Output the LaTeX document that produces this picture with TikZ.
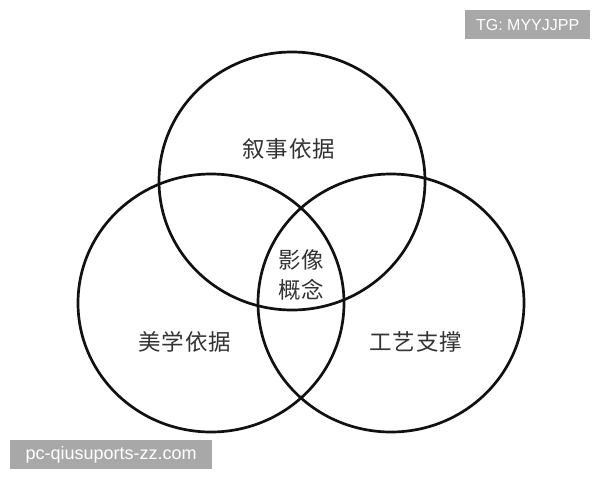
\documentclass[tikz,border=0pt]{standalone}
\usepackage{fontspec}
\setmainfont{Liberation Sans}
\newfontfamily\cjk{Noto Sans CJK SC}
\definecolor{ring}{HTML}{111111}
\definecolor{labelgray}{HTML}{333333}
\definecolor{wmbox}{HTML}{A8A8A8}
\begin{document}
\begin{tikzpicture}[x=1pt,y=-1pt,
  ring/.style={draw=ring,line width=2.7pt},
  lbl/.style={font=\cjk\fontsize{22.5}{27}\selectfont,text=labelgray,inner sep=0pt},
  wm/.style={fill=wmbox,text=white,inner sep=0pt,anchor=north west}]
\useasboundingbox[fill=white] (0,0) rectangle (600,480);
% circles
\draw[ring] (292,181) ellipse [x radius=133pt, y radius=129pt];
\draw[ring] (211,303) ellipse [x radius=133pt, y radius=129pt];
\draw[ring] (391,303) ellipse [x radius=133pt, y radius=129pt];
% labels
\node[lbl] (narr) at (289,149) {叙\hspace{1pt}事\hspace{1pt}依\hspace{1pt}据};
\node[lbl] (aes) at (185,342) {美\hspace{1pt}学\hspace{1pt}依\hspace{1pt}据};
\node[lbl] (craft) at (416,342) {工\hspace{1pt}艺\hspace{1pt}支\hspace{1pt}撑};
\node[lbl,align=center] (core) at (301,275) {影\hspace{1pt}像\\[3pt]概\hspace{1pt}念};
% watermarks
\node[wm,minimum width=125pt,minimum height=29pt] (tgbox) at (465,10) {};
\node[text=white,font=\fontsize{16}{19}\selectfont,inner sep=0pt] (tg) at (tgbox.center) {TG: MYYJJPP};
\node[wm,minimum width=202pt,minimum height=29pt] (sitebox) at (10,440) {};
\node[text=white,font=\fontsize{18}{21}\selectfont,inner sep=0pt] (site) at (sitebox.center) {pc-qiusuports-zz.com};
\end{tikzpicture}
\end{document}
